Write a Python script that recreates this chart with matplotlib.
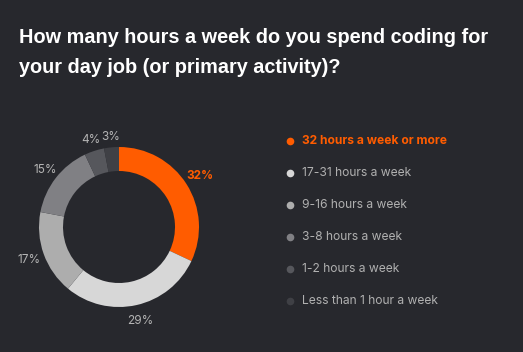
import matplotlib

matplotlib.use("Agg")
import matplotlib.pyplot as plt
from matplotlib.lines import Line2D
import numpy as np

TITLE = "How many hours a week do you spend coding for\nyour day job (or primary activity)?"
categories = [
    "32 hours a week or more",
    "17-31 hours a week",
    "9-16 hours a week",
    "3-8 hours a week",
    "1-2 hours a week",
    "Less than 1 hour a week",
]
values = [32, 29, 17, 15, 4, 3]
colors = ["#ff5c00", "#d7d7d7", "#adadad", "#808084", "#56575c", "#3f4045"]

BG = "#27282d"
W, H = 523, 352
SMALL = ["Inter", "DejaVu Sans"]

plt.rcParams["font.family"] = ["Liberation Sans", "DejaVu Sans"]
fig = plt.figure(figsize=(W / 100, H / 100), dpi=100, facecolor=BG)

fig.text(19 / W, 1 - 28 / H, TITLE, color="white", fontsize=14.3, fontweight="bold",
         va="top", ha="left", linespacing=1.75)

# donut: centre (119, 227) px, radius 80 px
cx, cy, r = 119, 227, 80
span = 2.5 * r
ax = fig.add_axes([(cx - span / 2) / W, 1 - (cy + span / 2) / H, span / W, span / H])
ax.set_facecolor(BG)
wedges, _ = ax.pie(values, colors=colors, startangle=90, counterclock=False,
                   radius=1.0, wedgeprops=dict(width=0.3, edgecolor="none"))
ax.set_xlim(-1.25, 1.25)
ax.set_ylim(-1.25, 1.25)
ax.set_aspect("equal")
ax.axis("off")

label_r = [1.2, 1.2, 1.2, 1.17, 1.15, 1.13]
for i, (w, v) in enumerate(zip(wedges, values)):
    ang = np.deg2rad((w.theta1 + w.theta2) / 2)
    x, y = label_r[i] * np.cos(ang), label_r[i] * np.sin(ang)
    first = i == 0
    ax.text(x, y, f"{v}%", ha="center", va="center", fontsize=8.5, family=SMALL,
            color=colors[0] if first else "#b4b4b4",
            fontweight="bold" if first else "normal", clip_on=False)

# legend
for i, (cat, col) in enumerate(zip(categories, colors)):
    yy = 1 - (141 + 32 * i) / H
    fig.add_artist(Line2D([290 / W], [yy], marker="o", markersize=5.5, color=col,
                          markeredgewidth=0, transform=fig.transFigure))
    first = i == 0
    fig.text(302 / W, yy, cat, color=colors[0] if first else "#b0b0b0",
             fontsize=8.7, family=SMALL, fontweight="bold" if first else "normal",
             ha="left", va="center")

fig.savefig("out.png", dpi=100, facecolor=BG)
